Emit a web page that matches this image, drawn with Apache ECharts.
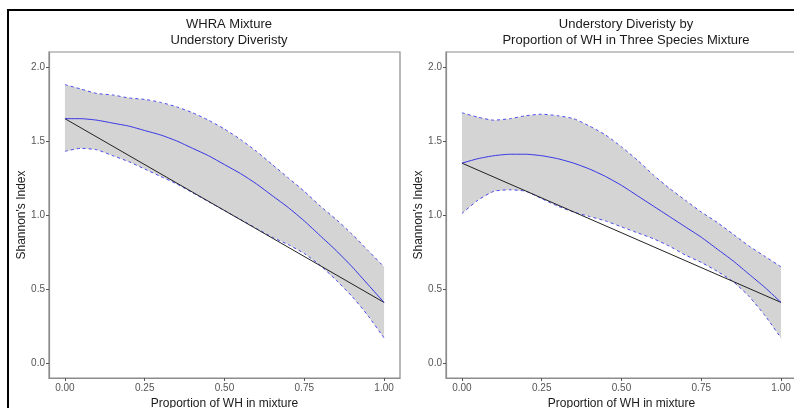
<!DOCTYPE html>
<html>
<head>
<meta charset="utf-8">
<script src="https://cdn.jsdelivr.net/npm/echarts@6/dist/echarts.min.js"></script>
<style>
  html, body { margin: 0; padding: 0; background: #fff; }
  #main { width: 794px; height: 408px; }
</style>
</head>
<body>
<div id="main"></div>
<script>
// proportion of WH
var xs = [0, 0.05, 0.1, 0.15, 0.2, 0.25, 0.3, 0.35, 0.4, 0.45, 0.5,
          0.55, 0.6, 0.65, 0.7, 0.75, 0.8, 0.85, 0.9, 0.95, 1.0];

// left panel: WHRA mixture
var fitL   = [1.65, 1.65, 1.64, 1.62, 1.60, 1.57, 1.54, 1.50, 1.45, 1.40, 1.34,
              1.28, 1.21, 1.13, 1.05, 0.96, 0.86, 0.76, 0.65, 0.53, 0.41];
var upperL = [1.88, 1.85, 1.82, 1.81, 1.79, 1.78, 1.76, 1.73, 1.69, 1.64, 1.58,
              1.51, 1.43, 1.34, 1.25, 1.16, 1.06, 0.97, 0.87, 0.76, 0.65];
var lowerL = [1.43, 1.45, 1.44, 1.40, 1.36, 1.31, 1.26, 1.21, 1.15, 1.09, 1.03,
              0.97, 0.91, 0.85, 0.80, 0.74, 0.66, 0.56, 0.45, 0.32, 0.17];
var lineL  = [[0, 1.65], [1, 0.41]];

// right panel: three species mixture
var fitR   = [1.35, 1.38, 1.40, 1.41, 1.41, 1.40, 1.38, 1.35, 1.31, 1.26, 1.20,
              1.13, 1.06, 0.99, 0.92, 0.85, 0.77, 0.69, 0.60, 0.51, 0.41];
var upperR = [1.69, 1.66, 1.64, 1.65, 1.67, 1.68, 1.67, 1.65, 1.60, 1.54, 1.46,
              1.37, 1.27, 1.18, 1.10, 1.02, 0.95, 0.87, 0.79, 0.72, 0.65];
var lowerR = [1.01, 1.10, 1.16, 1.17, 1.16, 1.11, 1.06, 1.02, 0.99, 0.96, 0.92,
              0.88, 0.84, 0.79, 0.73, 0.68, 0.62, 0.55, 0.45, 0.32, 0.17];
var lineR  = [[0, 1.35], [1, 0.41]];

var xTicks = [0, 0.25, 0.5, 0.75, 1];
var yTicks = [0, 0.5, 1, 1.5, 2];

var titles = ['WHRA Mixture\nUnderstory Diveristy',
              'Understory Diveristy by\nProportion of WH in Three Species Mixture'];
var xName = 'Proportion of WH in mixture';
var yName = "Shannon's Index";

var font = 'Liberation Sans, Arial, sans-serif';
var axisGrey = '#8c8c8c';

function pairs(vals) {
  return xs.map(function (x, i) { return [x, vals[i]]; });
}

function xAxis(idx) {
  return {
    type: 'value', gridIndex: idx, min: -0.05, max: 1.05,
    splitLine: { show: false },
    axisLine: { show: true, onZero: false, lineStyle: { color: axisGrey, width: 1.2 } },
    axisTick: { show: true, length: 3, customValues: xTicks, lineStyle: { color: '#555' } },
    axisLabel: { customValues: xTicks, color: '#555', fontSize: 10, fontFamily: font, margin: 5,
                 formatter: function (v) { return v.toFixed(2); } },
    name: xName, nameLocation: 'middle', nameGap: 18,
    nameTextStyle: { color: '#1a1a1a', fontSize: 12, fontFamily: font }
  };
}
function yAxis(idx) {
  return {
    type: 'value', gridIndex: idx, min: -0.1, max: 2.1,
    splitLine: { show: false },
    axisLine: { show: true, onZero: false, lineStyle: { color: axisGrey, width: 1.2 } },
    axisTick: { show: true, length: 3, customValues: yTicks, lineStyle: { color: '#555' } },
    axisLabel: { customValues: yTicks, color: '#555', fontSize: 10, fontFamily: font, margin: 4,
                 formatter: function (v) { return v.toFixed(1); } },
    name: yName, nameLocation: 'middle', nameGap: 21,
    nameTextStyle: { color: '#1a1a1a', fontSize: 12, fontFamily: font }
  };
}

// confidence band drawn as a polygon through the axis scales
function band(idx, up, lo) {
  return {
    type: 'custom', xAxisIndex: idx, yAxisIndex: idx, data: [0], silent: true, z: 1,
    renderItem: function (params, api) {
      var pts = [];
      xs.forEach(function (x, i) { pts.push(api.coord([x, up[i]])); });
      for (var i = xs.length - 1; i >= 0; i--) pts.push(api.coord([xs[i], lo[i]]));
      return { type: 'polygon', shape: { points: pts }, style: { fill: '#d4d4d4' } };
    }
  };
}

function panelSeries(idx, fit, up, lo, line) {
  return [
    band(idx, up, lo),
    { type: 'line', xAxisIndex: idx, yAxisIndex: idx, data: pairs(up), symbol: 'none', smooth: 0.2, z: 3,
      lineStyle: { color: '#4b4bf0', width: 1, type: [3, 3] } },
    { type: 'line', xAxisIndex: idx, yAxisIndex: idx, data: pairs(lo), symbol: 'none', smooth: 0.2, z: 3,
      lineStyle: { color: '#4b4bf0', width: 1, type: [3, 3] } },
    { type: 'line', xAxisIndex: idx, yAxisIndex: idx, data: line, symbol: 'none', z: 4,
      lineStyle: { color: '#222', width: 1 } },
    { type: 'line', xAxisIndex: idx, yAxisIndex: idx, data: pairs(fit), symbol: 'none', smooth: 0.2, z: 4,
      lineStyle: { color: '#3434e6', width: 1 } }
  ];
}

var myChart = echarts.init(document.getElementById('main'), null, { renderer: 'canvas' });
myChart.setOption({
  animation: false,
  backgroundColor: '#fff',
  title: [
    { text: titles[0], left: 224, top: 11, textAlign: 'center',
      textStyle: { fontSize: 13, fontWeight: 'normal', color: '#1a1a1a', fontFamily: font, lineHeight: 16 } },
    { text: titles[1], left: 621, top: 11, textAlign: 'center',
      textStyle: { fontSize: 13, fontWeight: 'normal', color: '#1a1a1a', fontFamily: font, lineHeight: 16 } }
  ],
  grid: [
    { left: 49, top: 52, width: 351, height: 326, outerBoundsMode: 'none',
      show: true, borderColor: axisGrey, borderWidth: 1.2 },
    { left: 446, top: 52, width: 351, height: 326, outerBoundsMode: 'none',
      show: true, borderColor: axisGrey, borderWidth: 1.2 }
  ],
  xAxis: [xAxis(0), xAxis(1)],
  yAxis: [yAxis(0), yAxis(1)],
  series: panelSeries(0, fitL, upperL, lowerL, lineL).concat(panelSeries(1, fitR, upperR, lowerR, lineR)),
  graphic: [
    { type: 'line', shape: { x1: 7, y1: 10, x2: 794, y2: 10 }, style: { stroke: '#000', lineWidth: 2 } },
    { type: 'line', shape: { x1: 8, y1: 9, x2: 8, y2: 408 }, style: { stroke: '#000', lineWidth: 2 } }
  ]
});
</script>
</body>
</html>
